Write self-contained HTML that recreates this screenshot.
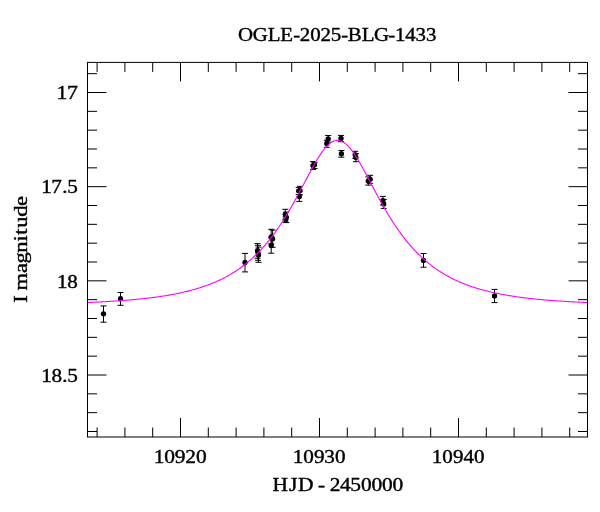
<!DOCTYPE html>
<html><head><meta charset="utf-8"><title>OGLE-2025-BLG-1433</title>
<style>html,body{margin:0;padding:0;background:#fff;width:600px;height:512px;overflow:hidden}svg{display:block}</style>
</head><body>
<svg width="600" height="512" viewBox="0 0 600 512">
<rect width="600" height="512" fill="#fff"/>
<g stroke="#000" stroke-width="1" fill="none"><path d="M103.5,305.9V322.2M100.5,305.9h6M100.5,322.2h6M120.5,292.5V305.3M117.5,292.5h6M117.5,305.3h6M245.0,253.4V271.9M242.0,253.4h6M242.0,271.9h6M257.5,243.6V258.2M254.5,243.6h6M254.5,258.2h6M258.0,245.3V260.3M255.0,245.3h6M255.0,260.3h6M258.5,247.1V262.3M255.5,247.1h6M255.5,262.3h6M271.2,229.3V243.9M268.2,229.3h6M268.2,243.9h6M272.6,230.1V247.3M269.6,230.1h6M269.6,247.3h6M271.2,237.8V253.2M268.2,237.8h6M268.2,253.2h6M285.3,209.3V219.2M282.3,209.3h6M282.3,219.2h6M286.3,212.1V222.6M283.3,212.1h6M283.3,222.6h6M285.7,216.8V222.4M282.7,216.8h6M282.7,222.4h6M298.7,187.4V194.5M295.7,187.4h6M295.7,194.5h6M300.0,186.3V194.8M297.0,186.3h6M297.0,194.8h6M299.3,191.8V201.4M296.3,191.8h6M296.3,201.4h6M313.0,161.6V169.4M310.0,161.6h6M310.0,169.4h6M314.5,162.7V168.5M311.5,162.7h6M311.5,168.5h6M328.2,135.5V142.1M325.2,135.5h6M325.2,142.1h6M326.8,140.3V147.3M323.8,140.3h6M323.8,147.3h6M341.0,135.4V141.7M338.0,135.4h6M338.0,141.7h6M341.4,150.5V157.2M338.4,150.5h6M338.4,157.2h6M355.2,151.3V158.3M352.2,151.3h6M352.2,158.3h6M355.9,153.5V161.7M352.9,153.5h6M352.9,161.7h6M370.2,175.3V183.3M367.2,175.3h6M367.2,183.3h6M368.3,176.9V185.1M365.3,176.9h6M365.3,185.1h6M382.9,196.4V204.9M379.9,196.4h6M379.9,204.9h6M383.7,199.4V208.4M380.7,199.4h6M380.7,208.4h6M423.5,253.5V267.2M420.5,253.5h6M420.5,267.2h6M494.5,289.4V302.6M491.5,289.4h6M491.5,302.6h6"/></g>
<g fill="#000"><circle cx="103.5" cy="313.8" r="2.65"/><circle cx="120.5" cy="298.7" r="2.65"/><circle cx="245.0" cy="262.5" r="2.65"/><circle cx="257.5" cy="250.6" r="2.65"/><circle cx="258.0" cy="252.8" r="2.65"/><circle cx="258.5" cy="255.0" r="2.65"/><circle cx="271.2" cy="236.8" r="2.65"/><circle cx="272.6" cy="238.7" r="2.65"/><circle cx="271.2" cy="245.5" r="2.65"/><circle cx="285.3" cy="214.3" r="2.65"/><circle cx="286.3" cy="217.3" r="2.65"/><circle cx="285.7" cy="219.8" r="2.65"/><circle cx="298.7" cy="190.8" r="2.65"/><circle cx="300.0" cy="190.6" r="2.65"/><circle cx="299.3" cy="196.6" r="2.65"/><circle cx="313.0" cy="165.6" r="2.65"/><circle cx="314.5" cy="164.8" r="2.65"/><circle cx="328.2" cy="138.8" r="2.65"/><circle cx="326.8" cy="143.5" r="2.65"/><circle cx="341.0" cy="138.5" r="2.65"/><circle cx="341.4" cy="153.7" r="2.65"/><circle cx="355.2" cy="154.8" r="2.65"/><circle cx="355.9" cy="157.6" r="2.65"/><circle cx="370.2" cy="179.3" r="2.65"/><circle cx="368.3" cy="181.0" r="2.65"/><circle cx="382.9" cy="200.7" r="2.65"/><circle cx="383.7" cy="203.9" r="2.65"/><circle cx="423.5" cy="260.4" r="2.65"/><circle cx="494.5" cy="296.0" r="2.65"/></g>
<path d="M88.0,302.51 L89.0,302.47 L90.0,302.43 L91.0,302.38 L92.0,302.34 L93.0,302.29 L94.0,302.24 L95.0,302.20 L96.0,302.15 L97.0,302.10 L98.0,302.05 L99.0,302.00 L100.0,301.95 L101.0,301.90 L102.0,301.84 L103.0,301.79 L104.0,301.73 L105.0,301.68 L106.0,301.62 L107.0,301.56 L108.0,301.50 L109.0,301.44 L110.0,301.38 L111.0,301.32 L112.0,301.26 L113.0,301.20 L114.0,301.13 L115.0,301.07 L116.0,301.00 L117.0,300.93 L118.0,300.86 L119.0,300.79 L120.0,300.72 L121.0,300.65 L122.0,300.57 L123.0,300.50 L124.0,300.42 L125.0,300.34 L126.0,300.26 L127.0,300.18 L128.0,300.10 L129.0,300.02 L130.0,299.93 L131.0,299.84 L132.0,299.76 L133.0,299.67 L134.0,299.57 L135.0,299.48 L136.0,299.39 L137.0,299.29 L138.0,299.19 L139.0,299.09 L140.0,298.99 L141.0,298.89 L142.0,298.78 L143.0,298.68 L144.0,298.57 L145.0,298.46 L146.0,298.34 L147.0,298.23 L148.0,298.11 L149.0,297.99 L150.0,297.87 L151.0,297.75 L152.0,297.62 L153.0,297.49 L154.0,297.36 L155.0,297.23 L156.0,297.10 L157.0,296.96 L158.0,296.82 L159.0,296.67 L160.0,296.53 L161.0,296.38 L162.0,296.23 L163.0,296.08 L164.0,295.92 L165.0,295.76 L166.0,295.60 L167.0,295.43 L168.0,295.26 L169.0,295.09 L170.0,294.91 L171.0,294.73 L172.0,294.55 L173.0,294.37 L174.0,294.18 L175.0,293.98 L176.0,293.79 L177.0,293.58 L178.0,293.38 L179.0,293.17 L180.0,292.96 L181.0,292.74 L182.0,292.52 L183.0,292.30 L184.0,292.07 L185.0,291.83 L186.0,291.59 L187.0,291.35 L188.0,291.10 L189.0,290.85 L190.0,290.59 L191.0,290.33 L192.0,290.06 L193.0,289.79 L194.0,289.51 L195.0,289.22 L196.0,288.93 L197.0,288.63 L198.0,288.33 L199.0,288.02 L200.0,287.71 L201.0,287.39 L202.0,287.06 L203.0,286.73 L204.0,286.39 L205.0,286.04 L206.0,285.69 L207.0,285.32 L208.0,284.95 L209.0,284.58 L210.0,284.19 L211.0,283.80 L212.0,283.40 L213.0,282.99 L214.0,282.58 L215.0,282.15 L216.0,281.72 L217.0,281.28 L218.0,280.83 L219.0,280.37 L220.0,279.90 L221.0,279.42 L222.0,278.93 L223.0,278.43 L224.0,277.92 L225.0,277.40 L226.0,276.87 L227.0,276.33 L228.0,275.77 L229.0,275.21 L230.0,274.63 L231.0,274.05 L232.0,273.45 L233.0,272.84 L234.0,272.21 L235.0,271.57 L236.0,270.92 L237.0,270.26 L238.0,269.58 L239.0,268.89 L240.0,268.19 L241.0,267.47 L242.0,266.74 L243.0,265.99 L244.0,265.23 L245.0,264.45 L246.0,263.65 L247.0,262.84 L248.0,262.01 L249.0,261.17 L250.0,260.31 L251.0,259.43 L252.0,258.54 L253.0,257.63 L254.0,256.70 L255.0,255.75 L256.0,254.78 L257.0,253.79 L258.0,252.79 L259.0,251.76 L260.0,250.72 L261.0,249.65 L262.0,248.57 L263.0,247.46 L264.0,246.33 L265.0,245.18 L266.0,244.02 L267.0,242.82 L268.0,241.61 L269.0,240.38 L270.0,239.12 L271.0,237.84 L272.0,236.54 L273.0,235.21 L274.0,233.87 L275.0,232.49 L276.0,231.10 L277.0,229.68 L278.0,228.24 L279.0,226.78 L280.0,225.29 L281.0,223.78 L282.0,222.25 L283.0,220.69 L284.0,219.11 L285.0,217.51 L286.0,215.88 L287.0,214.24 L288.0,212.57 L289.0,210.88 L290.0,209.17 L291.0,207.44 L292.0,205.69 L293.0,203.92 L294.0,202.14 L295.0,200.33 L296.0,198.52 L297.0,196.68 L298.0,194.84 L299.0,192.98 L300.0,191.11 L301.0,189.23 L302.0,187.34 L303.0,185.45 L304.0,183.56 L305.0,181.66 L306.0,179.77 L307.0,177.88 L308.0,176.00 L309.0,174.12 L310.0,172.26 L311.0,170.41 L312.0,168.58 L313.0,166.78 L314.0,164.99 L315.0,163.24 L316.0,161.52 L317.0,159.84 L318.0,158.20 L319.0,156.61 L320.0,155.06 L321.0,153.57 L322.0,152.14 L323.0,150.78 L324.0,149.47 L325.0,148.24 L326.0,147.09 L327.0,146.02 L328.0,145.03 L329.0,144.12 L330.0,143.31 L331.0,142.59 L332.0,141.97 L333.0,141.45 L334.0,141.03 L335.0,140.71 L336.0,140.50 L337.0,140.39 L338.0,140.39 L339.0,140.49 L340.0,140.70 L341.0,141.01 L342.0,141.43 L343.0,141.95 L344.0,142.57 L345.0,143.28 L346.0,144.09 L347.0,144.99 L348.0,145.98 L349.0,147.05 L350.0,148.20 L351.0,149.42 L352.0,150.72 L353.0,152.09 L354.0,153.52 L355.0,155.00 L356.0,156.55 L357.0,158.14 L358.0,159.78 L359.0,161.46 L360.0,163.17 L361.0,164.92 L362.0,166.70 L363.0,168.51 L364.0,170.34 L365.0,172.18 L366.0,174.05 L367.0,175.92 L368.0,177.80 L369.0,179.69 L370.0,181.59 L371.0,183.48 L372.0,185.38 L373.0,187.27 L374.0,189.15 L375.0,191.03 L376.0,192.90 L377.0,194.76 L378.0,196.61 L379.0,198.44 L380.0,200.26 L381.0,202.07 L382.0,203.85 L383.0,205.62 L384.0,207.37 L385.0,209.10 L386.0,210.81 L387.0,212.50 L388.0,214.17 L389.0,215.82 L390.0,217.44 L391.0,219.05 L392.0,220.63 L393.0,222.18 L394.0,223.72 L395.0,225.23 L396.0,226.72 L397.0,228.18 L398.0,229.63 L399.0,231.04 L400.0,232.44 L401.0,233.81 L402.0,235.16 L403.0,236.49 L404.0,237.79 L405.0,239.07 L406.0,240.33 L407.0,241.56 L408.0,242.78 L409.0,243.97 L410.0,245.14 L411.0,246.29 L412.0,247.41 L413.0,248.52 L414.0,249.61 L415.0,250.67 L416.0,251.72 L417.0,252.75 L418.0,253.75 L419.0,254.74 L420.0,255.71 L421.0,256.66 L422.0,257.59 L423.0,258.50 L424.0,259.40 L425.0,260.28 L426.0,261.14 L427.0,261.98 L428.0,262.81 L429.0,263.62 L430.0,264.41 L431.0,265.19 L432.0,265.96 L433.0,266.71 L434.0,267.44 L435.0,268.16 L436.0,268.87 L437.0,269.56 L438.0,270.23 L439.0,270.90 L440.0,271.55 L441.0,272.19 L442.0,272.81 L443.0,273.42 L444.0,274.02 L445.0,274.61 L446.0,275.19 L447.0,275.75 L448.0,276.30 L449.0,276.85 L450.0,277.38 L451.0,277.90 L452.0,278.41 L453.0,278.91 L454.0,279.40 L455.0,279.88 L456.0,280.35 L457.0,280.81 L458.0,281.26 L459.0,281.70 L460.0,282.14 L461.0,282.56 L462.0,282.98 L463.0,283.39 L464.0,283.79 L465.0,284.18 L466.0,284.56 L467.0,284.94 L468.0,285.31 L469.0,285.67 L470.0,286.03 L471.0,286.37 L472.0,286.71 L473.0,287.05 L474.0,287.38 L475.0,287.70 L476.0,288.01 L477.0,288.32 L478.0,288.62 L479.0,288.92 L480.0,289.21 L481.0,289.49 L482.0,289.77 L483.0,290.05 L484.0,290.32 L485.0,290.58 L486.0,290.84 L487.0,291.09 L488.0,291.34 L489.0,291.58 L490.0,291.82 L491.0,292.06 L492.0,292.29 L493.0,292.51 L494.0,292.73 L495.0,292.95 L496.0,293.16 L497.0,293.37 L498.0,293.58 L499.0,293.78 L500.0,293.97 L501.0,294.17 L502.0,294.36 L503.0,294.54 L504.0,294.73 L505.0,294.91 L506.0,295.08 L507.0,295.25 L508.0,295.42 L509.0,295.59 L510.0,295.75 L511.0,295.91 L512.0,296.07 L513.0,296.22 L514.0,296.37 L515.0,296.52 L516.0,296.67 L517.0,296.81 L518.0,296.95 L519.0,297.09 L520.0,297.23 L521.0,297.36 L522.0,297.49 L523.0,297.62 L524.0,297.74 L525.0,297.87 L526.0,297.99 L527.0,298.11 L528.0,298.22 L529.0,298.34 L530.0,298.45 L531.0,298.56 L532.0,298.67 L533.0,298.78 L534.0,298.88 L535.0,298.99 L536.0,299.09 L537.0,299.19 L538.0,299.29 L539.0,299.38 L540.0,299.48 L541.0,299.57 L542.0,299.66 L543.0,299.75 L544.0,299.84 L545.0,299.93 L546.0,300.01 L547.0,300.10 L548.0,300.18 L549.0,300.26 L550.0,300.34 L551.0,300.42 L552.0,300.49 L553.0,300.57 L554.0,300.64 L555.0,300.72 L556.0,300.79 L557.0,300.86 L558.0,300.93 L559.0,301.00 L560.0,301.06 L561.0,301.13 L562.0,301.19 L563.0,301.26 L564.0,301.32 L565.0,301.38 L566.0,301.44 L567.0,301.50 L568.0,301.56 L569.0,301.62 L570.0,301.68 L571.0,301.73 L572.0,301.79 L573.0,301.84 L574.0,301.89 L575.0,301.95 L576.0,302.00 L577.0,302.05 L578.0,302.10 L579.0,302.15 L580.0,302.20 L581.0,302.24 L582.0,302.29 L583.0,302.34 L584.0,302.38 L585.0,302.43 L586.0,302.47 L587.0,302.51" fill="none" stroke="#ff00ff" stroke-width="1.1"/>
<g stroke="#000" stroke-width="1" fill="none">
<rect x="87.5" y="62.4" width="500.0" height="374.6"/>
<path d="M97.10,437.0v-9.5M97.10,62.4v9.5M124.90,437.0v-9.5M124.90,62.4v9.5M152.70,437.0v-9.5M152.70,62.4v9.5M180.50,437.0v-19M180.50,62.4v19M208.30,437.0v-9.5M208.30,62.4v9.5M236.10,437.0v-9.5M236.10,62.4v9.5M263.90,437.0v-9.5M263.90,62.4v9.5M291.70,437.0v-9.5M291.70,62.4v9.5M319.50,437.0v-19M319.50,62.4v19M347.30,437.0v-9.5M347.30,62.4v9.5M375.10,437.0v-9.5M375.10,62.4v9.5M402.90,437.0v-9.5M402.90,62.4v9.5M430.70,437.0v-9.5M430.70,62.4v9.5M458.50,437.0v-19M458.50,62.4v19M486.30,437.0v-9.5M486.30,62.4v9.5M514.10,437.0v-9.5M514.10,62.4v9.5M541.90,437.0v-9.5M541.90,62.4v9.5M569.70,437.0v-9.5M569.70,62.4v9.5M87.5,73.67h9.5M587.5,73.67h-9.5M87.5,92.50h19M587.5,92.50h-19M87.5,111.33h9.5M587.5,111.33h-9.5M87.5,130.17h9.5M587.5,130.17h-9.5M87.5,149.00h9.5M587.5,149.00h-9.5M87.5,167.83h9.5M587.5,167.83h-9.5M87.5,186.67h19M587.5,186.67h-19M87.5,205.50h9.5M587.5,205.50h-9.5M87.5,224.33h9.5M587.5,224.33h-9.5M87.5,243.16h9.5M587.5,243.16h-9.5M87.5,262.00h9.5M587.5,262.00h-9.5M87.5,280.83h19M587.5,280.83h-19M87.5,299.66h9.5M587.5,299.66h-9.5M87.5,318.50h9.5M587.5,318.50h-9.5M87.5,337.33h9.5M587.5,337.33h-9.5M87.5,356.16h9.5M587.5,356.16h-9.5M87.5,375.00h19M587.5,375.00h-19M87.5,393.83h9.5M587.5,393.83h-9.5M87.5,412.66h9.5M587.5,412.66h-9.5M87.5,431.49h9.5M587.5,431.49h-9.5"/></g>
<g font-family="Liberation Serif, serif" font-size="19.5" fill="#000" stroke="#000" stroke-width="0.4">
<text transform="scale(1.0714,1)" x="222.07 235.94 249.91 261.60 273.61 279.76 289.55 299.27 308.79 318.47 324.48 337.63 349.01 362.32 368.58 378.21 387.78 397.53" y="41.3">OGLE-2025-BLG-1433</text>
<text transform="scale(1.1159,1)" x="50.74 60.11" y="99.3">17</text><text transform="scale(1.0862,1)" x="37.90 47.27 57.21 61.84" y="193.5">17.5</text><text transform="scale(1.0776,1)" x="52.87 62.47" y="287.6">18</text><text transform="scale(1.0879,1)" x="37.83 47.44 57.12 61.73" y="381.8">18.5</text>
<text transform="scale(1.0994,1)" x="139.81 149.36 159.03 168.58 178.23" y="462.8">10920</text><text transform="scale(1.0861,1)" x="269.56 279.22 289.01 298.48 308.44" y="462.8">10930</text><text transform="scale(1.0793,1)" x="400.08 409.80 419.65 429.36 439.21" y="462.8">10940</text>
<text transform="scale(1.0993,1)" x="247.85 262.85 271.09 284.82 289.17 295.27 299.88 309.37 318.66 328.44 337.95 347.46 356.97" y="491.3">HJD - 2450000</text>
<text transform="translate(27,249.6) rotate(-90) scale(1.1558,1)" x="-46.07 -39.51 -35.37 -20.28 -11.98 -2.64 6.98 12.78 18.83 28.35 37.64" y="0">I magnitude</text>
</g>
</svg>
</body></html>
